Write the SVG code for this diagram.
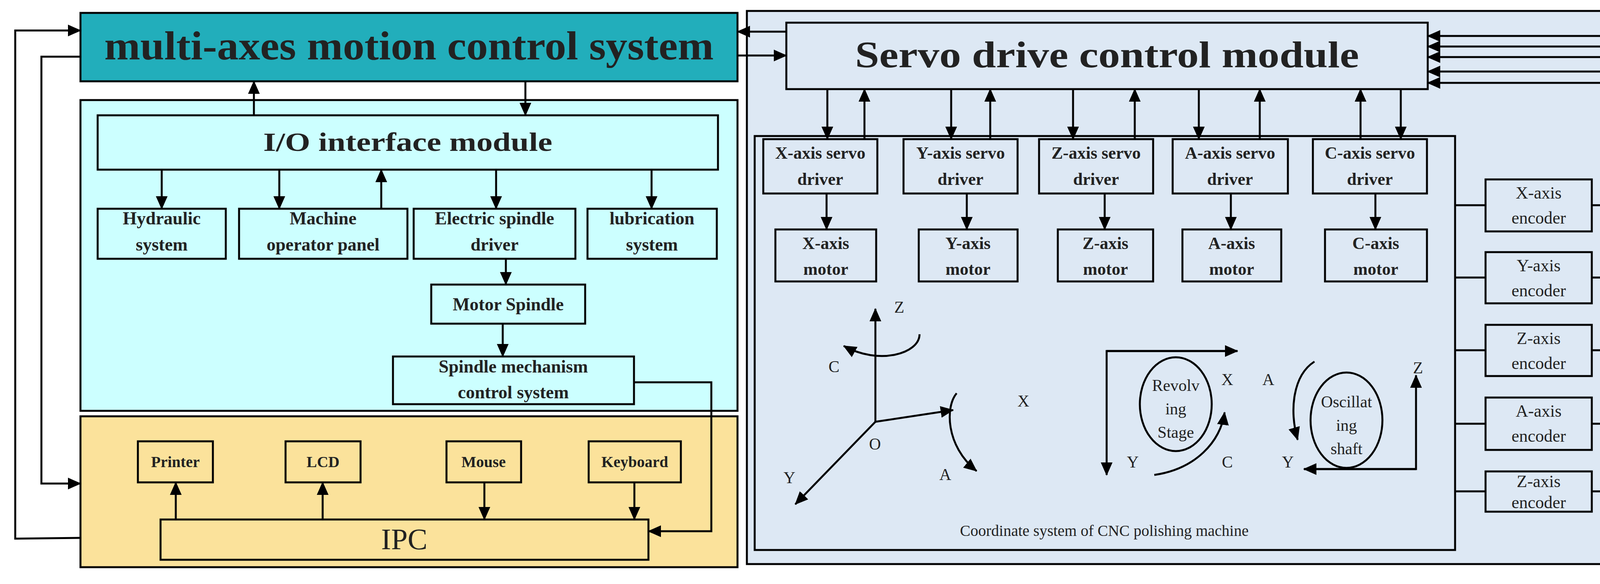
<svg xmlns="http://www.w3.org/2000/svg" width="4358" height="1494" viewBox="0 0 4358 1494">
<style>
.b{stroke:#000;stroke-width:5}
.l{fill:none;stroke:#000;stroke-width:5}
.t{font-family:"Liberation Serif",serif;font-weight:bold;fill:#222;text-anchor:middle}
.n{font-family:"Liberation Serif",serif;fill:#222;text-anchor:middle}
</style>
<defs>
<marker id="a" markerUnits="userSpaceOnUse" markerWidth="34" markerHeight="30" refX="32" refY="15" orient="auto"><path d="M0,0 L34,15 L0,30 Z" fill="#000"/></marker>
</defs>
<rect width="4358" height="1494" fill="#fff"/>
<!-- containers -->
<rect id="cyanArea" x="206" y="256" width="1682" height="795" fill="#CCFFFF" class="b"/>
<rect id="ipcArea" x="206" y="1065" width="1682" height="386" fill="#FBE29B" class="b"/>
<rect id="servoArea" x="1912" y="28" width="2408" height="1415" fill="#DDE8F4" class="b"/>
<rect id="innerArea" x="1932" y="348" width="1793" height="1059" fill="#DDE8F4" class="b"/>

<g id="main"><rect x="206" y="33" width="1682" height="175" fill="#22AEBB" class="b"/><text class="t" x="1047" y="152" font-size="104" textLength="1560" lengthAdjust="spacingAndGlyphs">multi-axes motion control system</text></g>
<g id="servo"><rect x="2013" y="58" width="1642" height="170" fill="#DDE8F4" class="b"/><text class="t" x="2834" y="172" font-size="96" textLength="1290" lengthAdjust="spacingAndGlyphs">Servo drive control module</text></g>
<g id="io"><rect x="250" y="295" width="1588" height="139" fill="#CCFFFF" class="b"/><text class="t" x="1044" y="386" font-size="68" textLength="740" lengthAdjust="spacingAndGlyphs">I/O interface module</text></g>
<g id="hyd"><rect x="250" y="534" width="328" height="128" fill="#CCFFFF" class="b"/><text class="t" x="414" y="574" font-size="46">Hydraulic</text><text class="t" x="414" y="641" font-size="46">system</text></g>
<g id="mop"><rect x="612" y="534" width="431" height="128" fill="#CCFFFF" class="b"/><text class="t" x="827" y="574" font-size="46">Machine</text><text class="t" x="827" y="641" font-size="46">operator panel</text></g>
<g id="esd"><rect x="1059" y="534" width="414" height="128" fill="#CCFFFF" class="b"/><text class="t" x="1266" y="574" font-size="46">Electric spindle</text><text class="t" x="1266" y="641" font-size="46">driver</text></g>
<g id="lub"><rect x="1504" y="534" width="331" height="128" fill="#CCFFFF" class="b"/><text class="t" x="1669" y="574" font-size="46">lubrication</text><text class="t" x="1669" y="641" font-size="46">system</text></g>
<g id="ms"><rect x="1104" y="728" width="394" height="100" fill="#CCFFFF" class="b"/><text class="t" x="1301" y="794" font-size="46">Motor Spindle</text></g>
<g id="smc"><rect x="1006" y="912" width="617" height="122" fill="#CCFFFF" class="b"/><text class="t" x="1314" y="953" font-size="46">Spindle mechanism</text><text class="t" x="1314" y="1019" font-size="46">control system</text></g>
<g id="printer"><rect x="353" y="1129" width="192" height="105" fill="#FBE29B" class="b"/><text class="t" x="449" y="1195" font-size="40">Printer</text></g>
<g id="lcd"><rect x="731" y="1129" width="192" height="105" fill="#FBE29B" class="b"/><text class="t" x="827" y="1195" font-size="40">LCD</text></g>
<g id="mouse"><rect x="1143" y="1129" width="191" height="105" fill="#FBE29B" class="b"/><text class="t" x="1238" y="1195" font-size="40">Mouse</text></g>
<g id="keyboard"><rect x="1507" y="1129" width="236" height="105" fill="#FBE29B" class="b"/><text class="t" x="1625" y="1195" font-size="40">Keyboard</text></g>
<g id="ipc"><rect x="411" y="1329" width="1249" height="103" fill="#FBE29B" class="b"/><text class="n" x="1035" y="1405" font-size="76">IPC</text></g>

<g id="xd"><rect x="1954" y="356" width="292" height="139" fill="#DDE8F4" class="b"/><text class="t" x="2100" y="406" font-size="44">X-axis servo</text><text class="t" x="2100" y="473" font-size="44">driver</text></g>
<g id="yd"><rect x="2313" y="356" width="292" height="139" fill="#DDE8F4" class="b"/><text class="t" x="2459" y="406" font-size="44">Y-axis servo</text><text class="t" x="2459" y="473" font-size="44">driver</text></g>
<g id="zd"><rect x="2660" y="356" width="292" height="139" fill="#DDE8F4" class="b"/><text class="t" x="2806" y="406" font-size="44">Z-axis servo</text><text class="t" x="2806" y="473" font-size="44">driver</text></g>
<g id="ad"><rect x="3002" y="356" width="295" height="139" fill="#DDE8F4" class="b"/><text class="t" x="3149" y="406" font-size="44">A-axis servo</text><text class="t" x="3149" y="473" font-size="44">driver</text></g>
<g id="cd"><rect x="3361" y="356" width="292" height="139" fill="#DDE8F4" class="b"/><text class="t" x="3507" y="406" font-size="44">C-axis servo</text><text class="t" x="3507" y="473" font-size="44">driver</text></g>
<g id="xm"><rect x="1985" y="587" width="258" height="133" fill="#DDE8F4" class="b"/><text class="t" x="2114" y="637" font-size="44">X-axis</text><text class="t" x="2114" y="703" font-size="44">motor</text></g>
<g id="ym"><rect x="2352" y="587" width="253" height="133" fill="#DDE8F4" class="b"/><text class="t" x="2478" y="637" font-size="44">Y-axis</text><text class="t" x="2478" y="703" font-size="44">motor</text></g>
<g id="zm"><rect x="2708" y="587" width="244" height="133" fill="#DDE8F4" class="b"/><text class="t" x="2830" y="637" font-size="44">Z-axis</text><text class="t" x="2830" y="703" font-size="44">motor</text></g>
<g id="am"><rect x="3027" y="587" width="253" height="133" fill="#DDE8F4" class="b"/><text class="t" x="3153" y="637" font-size="44">A-axis</text><text class="t" x="3153" y="703" font-size="44">motor</text></g>
<g id="cm"><rect x="3392" y="587" width="261" height="133" fill="#DDE8F4" class="b"/><text class="t" x="3522" y="637" font-size="44">C-axis</text><text class="t" x="3522" y="703" font-size="44">motor</text></g>

<g id="xe"><rect x="3803" y="459" width="272" height="133" fill="#DDE8F4" class="b"/><text class="n" x="3939" y="508" font-size="44">X-axis</text><text class="n" x="3939" y="572" font-size="44">encoder</text></g>
<g id="ye"><rect x="3803" y="645" width="272" height="131" fill="#DDE8F4" class="b"/><text class="n" x="3939" y="694" font-size="44">Y-axis</text><text class="n" x="3939" y="758" font-size="44">encoder</text></g>
<g id="ze"><rect x="3803" y="831" width="272" height="131" fill="#DDE8F4" class="b"/><text class="n" x="3939" y="880" font-size="44">Z-axis</text><text class="n" x="3939" y="944" font-size="44">encoder</text></g>
<g id="ae"><rect x="3803" y="1017" width="272" height="134" fill="#DDE8F4" class="b"/><text class="n" x="3939" y="1066" font-size="44">A-axis</text><text class="n" x="3939" y="1130" font-size="44">encoder</text></g>
<g id="z2e"><rect x="3803" y="1206" width="272" height="103" fill="#DDE8F4" class="b"/><text class="n" x="3939" y="1246" font-size="44">Z-axis</text><text class="n" x="3939" y="1300" font-size="44">encoder</text></g>

<g id="coords">
<polyline class="l" points="2241,1079 2241,790" marker-end="url(#a)"/>
<polyline class="l" points="2241,1079 2440,1049" marker-end="url(#a)"/>
<polyline class="l" points="2241,1079 2036,1290" marker-end="url(#a)"/>
<path class="l" d="M2354,855 C2354,905 2250,935 2160,885" marker-end="url(#a)"/>
<path class="l" d="M2449,1006 C2420,1040 2420,1140 2500,1205" marker-end="url(#a)"/>
<text class="n" x="2302" y="800" font-size="42">Z</text>
<text class="n" x="2135" y="952" font-size="42">C</text>
<text class="n" x="2620" y="1040" font-size="42">X</text>
<text class="n" x="2240" y="1150" font-size="42">O</text>
<text class="n" x="2021" y="1236" font-size="42">Y</text>
<text class="n" x="2420" y="1228" font-size="42">A</text>
<ellipse class="l" cx="3010" cy="1034" rx="92" ry="120"/>
<text class="n" x="3010" y="1000" font-size="42">Revolv</text><text class="n" x="3010" y="1060" font-size="42">ing</text><text class="n" x="3010" y="1120" font-size="42">Stage</text>
<polyline class="l" points="3168,898 2833,898 2833,1215" marker-end="url(#a)"/>
<polyline class="l" points="2833,898 3168,898" marker-end="url(#a)"/>
<path class="l" d="M2955,1215 C3060,1200 3125,1130 3135,1055" marker-end="url(#a)"/>
<text class="n" x="3142" y="985" font-size="42">X</text>
<text class="n" x="2900" y="1196" font-size="42">Y</text>
<text class="n" x="3142" y="1196" font-size="42">C</text>
<ellipse class="l" cx="3447" cy="1075" rx="92" ry="122"/>
<text class="n" x="3447" y="1042" font-size="42">Oscillat</text><text class="n" x="3447" y="1102" font-size="42">ing</text><text class="n" x="3447" y="1162" font-size="42">shaft</text>
<polyline class="l" points="3338,1200 3625,1200 3625,960" marker-end="url(#a)"/>
<polyline class="l" points="3625,1200 3338,1200" marker-end="url(#a)"/>
<path class="l" d="M3365,925 C3310,960 3300,1050 3322,1125" marker-end="url(#a)"/>
<text class="n" x="3630" y="955" font-size="42">Z</text>
<text class="n" x="3297" y="1196" font-size="42">Y</text>
<text class="n" x="3247" y="985" font-size="42">A</text>
<text class="n" x="2827" y="1371" font-size="40">Coordinate system of CNC polishing machine</text>
</g>

<g id="connectors">
<line class="l" x1="1345" y1="208" x2="1345" y2="295" marker-end="url(#a)"/>
<line class="l" x1="650" y1="295" x2="650" y2="208" marker-end="url(#a)"/>
<line class="l" x1="414" y1="434" x2="414" y2="534" marker-end="url(#a)"/>
<line class="l" x1="715" y1="434" x2="715" y2="534" marker-end="url(#a)"/>
<line class="l" x1="976" y1="534" x2="976" y2="434" marker-end="url(#a)"/>
<line class="l" x1="1270" y1="434" x2="1270" y2="534" marker-end="url(#a)"/>
<line class="l" x1="1668" y1="434" x2="1668" y2="534" marker-end="url(#a)"/>
<line class="l" x1="1295" y1="662" x2="1295" y2="728" marker-end="url(#a)"/>
<line class="l" x1="1287" y1="828" x2="1287" y2="912" marker-end="url(#a)"/>
<polyline class="l" points="1623,978 1821,978 1821,1359 1660,1359" marker-end="url(#a)"/>
<line class="l" x1="450" y1="1329" x2="450" y2="1234" marker-end="url(#a)"/>
<line class="l" x1="826" y1="1329" x2="826" y2="1234" marker-end="url(#a)"/>
<line class="l" x1="1240" y1="1234" x2="1240" y2="1329" marker-end="url(#a)"/>
<line class="l" x1="1624" y1="1234" x2="1624" y2="1329" marker-end="url(#a)"/>
<polyline class="l" points="206,1376 39,1378 39,78 206,78" marker-end="url(#a)"/>
<polyline class="l" points="206,145 106,145 106,1237 206,1237" marker-end="url(#a)"/>
<polyline class="l" points="2013,81 1888,81" marker-end="url(#a)"/>
<polyline class="l" points="1888,142 2013,142" marker-end="url(#a)"/>
<line class="l" x1="2118" y1="228" x2="2118" y2="356" marker-end="url(#a)"/>
<line class="l" x1="2213" y1="356" x2="2213" y2="228" marker-end="url(#a)"/>
<line class="l" x1="2435" y1="228" x2="2435" y2="356" marker-end="url(#a)"/>
<line class="l" x1="2535" y1="356" x2="2535" y2="228" marker-end="url(#a)"/>
<line class="l" x1="2747" y1="228" x2="2747" y2="356" marker-end="url(#a)"/>
<line class="l" x1="2905" y1="356" x2="2905" y2="228" marker-end="url(#a)"/>
<line class="l" x1="3069" y1="228" x2="3069" y2="356" marker-end="url(#a)"/>
<line class="l" x1="3225" y1="356" x2="3225" y2="228" marker-end="url(#a)"/>
<line class="l" x1="3483" y1="356" x2="3483" y2="228" marker-end="url(#a)"/>
<line class="l" x1="3586" y1="228" x2="3586" y2="356" marker-end="url(#a)"/>
<line class="l" x1="2116" y1="495" x2="2116" y2="587" marker-end="url(#a)"/>
<line class="l" x1="2475" y1="495" x2="2475" y2="587" marker-end="url(#a)"/>
<line class="l" x1="2828" y1="495" x2="2828" y2="587" marker-end="url(#a)"/>
<line class="l" x1="3151" y1="495" x2="3151" y2="587" marker-end="url(#a)"/>
<line class="l" x1="3521" y1="495" x2="3521" y2="587" marker-end="url(#a)"/>
<line class="l" x1="3725" y1="525" x2="3803" y2="525"/>
<line class="l" x1="3725" y1="710" x2="3803" y2="710"/>
<line class="l" x1="3725" y1="896" x2="3803" y2="896"/>
<line class="l" x1="3725" y1="1084" x2="3803" y2="1084"/>
<line class="l" x1="3725" y1="1257" x2="3803" y2="1257"/>
<polyline class="l" points="4075,525 4115,525 4115,212 3655,212" marker-end="url(#a)"/>
<polyline class="l" points="4075,710 4143,710 4143,183 3655,183" marker-end="url(#a)"/>
<polyline class="l" points="4075,896 4171,896 4171,146 3655,146" marker-end="url(#a)"/>
<polyline class="l" points="4075,1084 4199,1084 4199,119 3655,119" marker-end="url(#a)"/>
<polyline class="l" points="4075,1257 4227,1257 4227,92 3655,92" marker-end="url(#a)"/>
</g>
</svg>
